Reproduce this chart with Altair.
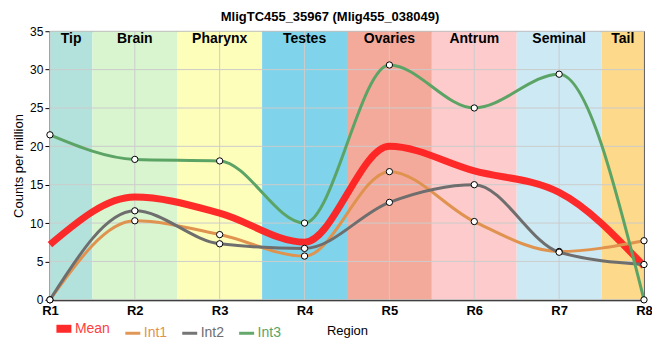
import altair as alt
import pandas as pd

regions = ["R1", "R2", "R3", "R4", "R5", "R6", "R7", "R8"]
positions = [1, 2, 3, 4, 5, 6, 7, 8]
mean_vals = [7.2, 13.4, 11.3, 7.5, 20.0, 16.8, 14.0, 4.4]
int1_vals = [0.0, 10.3, 8.5, 5.7, 16.7, 10.2, 6.3, 7.7]
int2_vals = [0.0, 11.6, 7.3, 6.7, 12.7, 15.0, 6.2, 4.6]
int3_vals = [21.5, 18.3, 18.1, 10.0, 30.6, 25.0, 29.4, 0.0]

band_names = ["Tip", "Brain", "Pharynx", "Testes", "Ovaries", "Antrum", "Seminal", "Tail"]
band_start = [1, 1.5, 2.5, 3.5, 4.5, 5.5, 6.5, 7.5]
band_end = [1.5, 2.5, 3.5, 4.5, 5.5, 6.5, 7.5, 8]
band_colors = ["#b3e2dd", "#d8f5cf", "#fefebb", "#7fd3ea", "#f4aa9b", "#fdcbcb", "#cdeaf4", "#fdd98b"]

series_names = ["Mean", "Int1", "Int2", "Int3"]
series_colors = ["#ff2020", "#e0934f", "#6e6e6e", "#5ca465"]
y_ticks = [0, 5, 10, 15, 20, 25, 30, 35]

W, H = 595, 269
FONT = "Liberation Sans"

bands = pd.DataFrame({"name": band_names, "start": band_start, "end": band_end, "color": band_colors})
bands["mid"] = (bands["start"] + bands["end"]) / 2

rows = []
for s, vals in zip(series_names, [mean_vals, int1_vals, int2_vals, int3_vals]):
    for r, p, v in zip(regions, positions, vals):
        rows.append({"series": s, "region": r, "pos": p, "value": v})
df = pd.DataFrame(rows)

xscale = alt.Scale(domain=[1, 8], nice=False, zero=False)
yscale = alt.Scale(domain=[0, 35], nice=False)
cscale = alt.Scale(domain=series_names, range=series_colors)

xaxis = alt.Axis(values=positions, labelExpr="'R' + datum.value", grid=False,
                 labelFontWeight="bold", labelFontSize=13, labelColor="black",
                 title="Region", titleFontWeight="normal", titleFontSize=13, titleColor="black",
                 domainColor="black", domainWidth=2, tickColor="black", tickSize=0,
                 labelPadding=5, titlePadding=7, labelFlush=False)
yaxis = alt.Axis(values=y_ticks, grid=False, labelFontSize=12, labelColor="black",
                 title="Counts per million", titleFontWeight="normal", titleFontSize=13,
                 titleColor="black", domainColor="black", domainWidth=2, tickColor="black",
                 tickSize=5, labelPadding=2, titlePadding=4, labelOverlap=False, labelFlush=False)

X = lambda f: alt.X(f, scale=xscale, axis=xaxis)
Y = lambda f: alt.Y(f, scale=yscale, axis=yaxis)

rects = alt.Chart(bands).mark_rect().encode(
    x=X("start:Q"),
    x2="end:Q",
    y=alt.value(0),
    y2=alt.value(H),
    fill=alt.Fill("color:N", scale=None, legend=None),
)

labels = alt.Chart(bands).mark_text(fontWeight="bold", fontSize=14, baseline="top", color="black").encode(
    x=X("mid:Q"),
    y=alt.value(1),
    text="name:N",
)

hgrid = alt.Chart(pd.DataFrame({"v": y_ticks})).mark_rule(color="#cccccc", strokeWidth=1).encode(
    y=Y("v:Q")
)
vgrid = alt.Chart(pd.DataFrame({"p": positions})).mark_rule(color="#cccccc", strokeWidth=1).encode(
    x=X("p:Q")
)

label_color_expr = ("datum.value == 'Mean' ? '#ff4040' : datum.value == 'Int1' ? '#e0934f' : "
                    "datum.value == 'Int2' ? '#6e6e6e' : '#5ca465'")
legend = alt.Legend(orient="none", legendX=7, legendY=H + 22, direction="horizontal", title=None,
                    symbolType="stroke", labelFontSize=14, columnPadding=8, symbolSize=225,
                    labelOffset=4, padding=0, labelLimit=200,
                    labelColor={"expr": label_color_expr},
                    symbolStrokeWidth={"expr": "datum.value == 'Mean' ? 8 : 3"})

mean_line = alt.Chart(df[df.series == "Mean"]).mark_line(interpolate="monotone", strokeWidth=7, opacity=0.95).encode(
    x=X("pos:Q"),
    y=Y("value:Q"),
    color=alt.Color("series:N", scale=cscale, legend=legend, sort=series_names),
)

int_df = df[df.series != "Mean"]
int_lines = alt.Chart(int_df).mark_line(interpolate="monotone", strokeWidth=3).encode(
    x=X("pos:Q"),
    y=Y("value:Q"),
    color=alt.Color("series:N", scale=cscale, legend=legend, sort=series_names),
    detail="series:N",
)

points = alt.Chart(int_df).mark_point(shape="circle", filled=False, fill="white", fillOpacity=1,
                                        stroke="black", strokeWidth=1, size=40, opacity=1).encode(
    x=X("pos:Q"),
    y=Y("value:Q"),
)

chart = alt.layer(rects, hgrid, vgrid, labels, mean_line, int_lines, points).properties(
    width=W, height=H,
    autosize=alt.AutoSizeParams(type="none"),
    padding={"left": 42, "top": 23, "right": 8, "bottom": 52},
    title=alt.Title("MligTC455_35967 (Mlig455_038049)", fontSize=13, fontWeight="bold",
                    anchor="middle", frame="group", offset=1, dx=-17, color="black"),
).configure(font=FONT).configure_view(stroke="black", strokeWidth=1)

chart.save("out.html", embed_options={"renderer": "svg", "actions": False})
